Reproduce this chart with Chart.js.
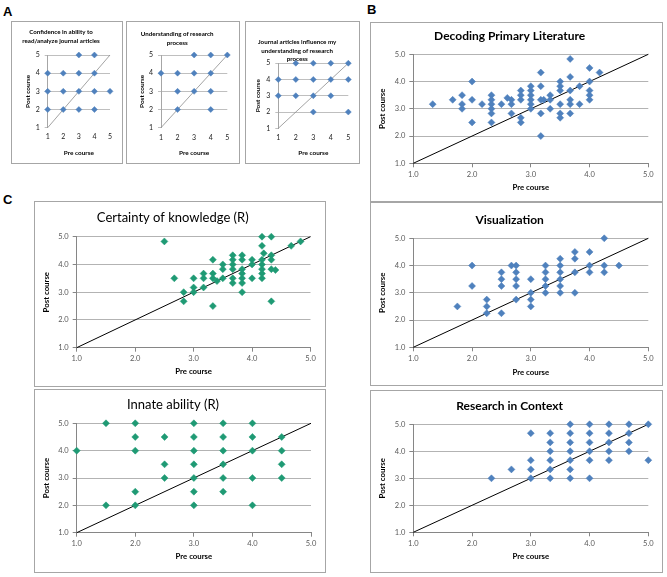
<!DOCTYPE html>
<html>
<head>
<meta charset="utf-8">
<script src="https://cdn.jsdelivr.net/npm/chart.js@4"></script>
<style>
  body { margin: 0; background: #fff; width: 667px; height: 577px; position: relative; overflow: hidden; }
  .box { position: absolute; border: 1px solid #a6a6a6; box-sizing: border-box; background: #fff; }
  .box canvas { position: absolute; left: 0; top: 0; }
  .lbl { position: absolute; font: bold 13px "Liberation Sans", Arial, sans-serif; color: #000; }
</style>
</head>
<body>
<div class="lbl" style="left:3px;top:4px">A</div>
<div class="lbl" style="left:367px;top:2px">B</div>
<div class="lbl" style="left:3px;top:192px">C</div>
<script>
const blue = '#4f81bd';
const green = '#1f9a74';
const intTicks = ['1', '2', '3', '4', '5'];
const decTicks = ['1.0', '2.0', '3.0', '4.0', '5.0'];
const diagonalX = [1, 5];
const diagonalY = [1, 5];

// Panel A
const confidencePre  = [3, 4, 1, 2, 3, 4, 1, 2, 3, 4, 5, 1, 2, 3, 4];
const confidencePost = [5, 5, 4, 4, 4, 4, 3, 3, 3, 3, 3, 2, 2, 2, 2];
const understandingPre  = [3, 4, 5, 1, 2, 3, 4, 2, 3, 4, 2, 4];
const understandingPost = [5, 5, 5, 4, 4, 4, 4, 3, 3, 3, 2, 2];
const influencePre  = [2, 3, 4, 5, 1, 2, 3, 4, 5, 1, 2, 3, 4, 3, 5];
const influencePost = [5, 5, 5, 5, 4, 4, 4, 4, 4, 3, 3, 3, 3, 2, 2];

// Panel B
const decodingPre = [1.33, 1.67, 1.83, 1.83, 1.83, 2.0, 2.0, 2.0, 2.17,
  2.33, 2.33, 2.33, 2.33, 2.33, 2.33, 2.5, 2.6, 2.67, 2.67, 2.67,
  2.83, 2.83, 2.83, 2.83, 2.83, 3.0, 3.0, 3.0, 3.0, 3.0, 3.0,
  3.17, 3.17, 3.17, 3.17, 3.17, 3.22, 3.33, 3.33, 3.33,
  3.5, 3.5, 3.5, 3.5, 3.5, 3.5, 3.67, 3.67, 3.67, 3.67, 3.67, 3.67,
  3.83, 3.83, 4.0, 4.0, 4.0, 4.0, 4.0, 4.17];
const decodingPost = [3.17, 3.33, 3.5, 3.17, 3.0, 4.0, 3.33, 2.5, 3.17,
  3.5, 3.33, 3.17, 3.0, 2.83, 2.5, 3.17, 3.4, 3.33, 3.17, 2.83,
  3.67, 3.5, 3.33, 2.67, 2.5, 3.83, 3.67, 3.5, 3.33, 3.17, 3.0,
  4.33, 3.83, 3.33, 2.83, 2.0, 3.33, 3.5, 3.33, 3.0,
  4.0, 3.83, 3.67, 3.17, 2.83, 2.67, 4.83, 4.17, 3.67, 3.33, 3.17, 2.83,
  3.83, 3.17, 4.5, 4.0, 3.67, 3.5, 3.33, 4.33];
const visualPre = [1.75, 2.0, 2.0, 2.25, 2.25, 2.25, 2.5, 2.5, 2.5, 2.5, 2.67,
  2.75, 2.75, 2.75, 2.75, 2.75, 3.0, 3.0, 3.0, 3.0, 3.25, 3.25, 3.25, 3.25, 3.25,
  3.5, 3.5, 3.5, 3.5, 3.5, 3.5, 3.75, 3.75, 3.75, 3.75, 4.0, 4.0, 4.0,
  4.25, 4.25, 4.25, 4.5];
const visualPost = [2.5, 4.0, 3.25, 2.75, 2.5, 2.25, 3.75, 3.5, 3.25, 2.25, 4.0,
  4.0, 3.75, 3.5, 3.25, 2.75, 3.5, 3.0, 2.75, 2.5, 4.0, 3.75, 3.5, 3.25, 3.0,
  4.25, 4.0, 3.75, 3.5, 3.25, 3.0, 4.5, 4.25, 3.75, 3.0, 4.5, 4.0, 3.75,
  5.0, 4.0, 3.75, 4.0];
const contextPre = [2.33, 2.67, 3.0, 3.0, 3.0, 3.0, 3.33, 3.33, 3.33, 3.33, 3.33, 3.33,
  3.67, 3.67, 3.67, 3.67, 3.67, 3.67, 3.67, 4.0, 4.0, 4.0, 4.0, 4.0, 4.0,
  4.33, 4.33, 4.33, 4.33, 4.33, 4.67, 4.67, 4.67, 4.67, 5.0, 5.0];
const contextPost = [3.0, 3.33, 4.67, 3.67, 3.33, 3.0, 4.67, 4.33, 4.0, 3.67, 3.33, 3.0,
  5.0, 4.67, 4.33, 4.0, 3.67, 3.33, 3.0, 5.0, 4.67, 4.33, 4.0, 3.67, 3.0,
  5.0, 4.67, 4.33, 4.0, 3.67, 5.0, 4.67, 4.33, 4.0, 5.0, 3.67];

// Panel C
const certaintyPre = [2.5, 2.67, 2.83, 2.83, 3.0, 3.0, 3.0, 3.17, 3.17, 3.17,
  3.33, 3.33, 3.33, 3.33, 3.4, 3.5, 3.5, 3.5, 3.67, 3.67, 3.67, 3.67, 3.67, 3.67,
  3.83, 3.83, 3.83, 3.83, 3.83, 3.83, 3.83, 4.0, 4.0, 4.0,
  4.17, 4.17, 4.17, 4.17, 4.17, 4.17, 4.17, 4.2, 4.33, 4.33, 4.33, 4.33, 4.33, 4.4, 4.67, 4.83];
const certaintyPost = [4.83, 3.5, 3.0, 2.67, 3.5, 3.17, 3.0, 3.67, 3.5, 3.17,
  4.17, 3.67, 3.5, 2.5, 3.4, 4.0, 3.83, 3.5, 4.33, 4.17, 4.0, 3.83, 3.5, 3.33,
  4.33, 4.17, 3.83, 3.67, 3.5, 3.33, 3.0, 4.17, 4.0, 3.5,
  5.0, 4.67, 4.17, 4.0, 3.83, 3.67, 3.5, 4.4, 5.0, 4.33, 4.17, 3.83, 2.67, 3.8, 4.67, 4.83];
const innatePre = [1.0, 1.5, 1.5, 2.0, 2.0, 2.0, 2.0, 2.0, 2.5, 2.5, 2.5,
  3.0, 3.0, 3.0, 3.0, 3.0, 3.0, 3.0, 3.5, 3.5, 3.5, 3.5, 3.5, 3.5,
  4.0, 4.0, 4.0, 4.0, 4.0, 4.5, 4.5, 4.5, 4.5];
const innatePost = [4.0, 5.0, 2.0, 5.0, 4.5, 4.0, 2.5, 2.0, 4.5, 3.5, 3.0,
  5.0, 4.5, 4.0, 3.5, 3.0, 2.5, 2.0, 5.0, 4.5, 4.0, 3.5, 3.0, 2.5,
  5.0, 4.5, 4.0, 3.0, 2.0, 4.5, 4.0, 3.5, 3.0];

Chart.defaults.font.family = 'Lato, "Liberation Sans", sans-serif';

function pts(xs, ys) {
  return xs.map((x, i) => ({ x: x, y: ys[i] }));
}

function addPanel(p) {
  const [bx, by, bw, bh] = p.box;
  const W = bw - 2, H = bh - 2, ox = bx + 1, oy = by + 1;
  const box = document.createElement('div');
  box.className = 'box';
  box.style.left = bx + 'px';
  box.style.top = by + 'px';
  box.style.width = bw + 'px';
  box.style.height = bh + 'px';
  const cv = document.createElement('canvas');
  cv.width = W;
  cv.height = H;
  box.appendChild(cv);
  document.body.appendChild(box);

  const f = p.fonts;
  const tLH = f.title * f.titleLH;
  const nLines = Array.isArray(p.title) ? p.title.length : 1;
  const titleTop = p.titleY - oy - tLH / 2;
  const titleBottom = Math.max(0, (p.plotT - oy) - titleTop - nLines * tLH);
  const tickLH = f.tick * 1.2, axLH = f.axis * 1.2;
  const xH = H - (p.plotB - oy);
  const xTickPad = (p.tickY - p.plotB) - p.xTickLen - tickLH / 2;
  const xTitlePad = (H - (p.xTitleY - oy)) - axLH / 2;
  const yW = p.plotL - ox;
  const yTitlePad = (p.yTitleX - ox) - axLH / 2;
  const padRight = W - (p.plotR - ox);
  const small = p.small;

  new Chart(cv, {
    type: 'scatter',
    data: {
      datasets: [
        {
          data: pts(p.pre, p.post),
          pointStyle: 'rectRot',
          pointRadius: p.radius,
          backgroundColor: p.color,
          borderColor: p.color,
          pointBorderWidth: 0.5,
          clip: false
        },
        {
          type: 'line',
          data: pts(diagonalX, diagonalY),
          borderColor: small ? '#8c8c8c' : '#000',
          borderWidth: small ? 0.8 : 1,
          pointRadius: 0,
          clip: false
        }
      ]
    },
    options: {
      responsive: false,
      animation: false,
      layout: { padding: { left: 0, right: padRight, top: 0, bottom: 0 } },
      plugins: {
        legend: { display: false },
        tooltip: { enabled: false },
        title: {
          display: true,
          text: p.title,
          color: '#000',
          font: { size: f.title, weight: p.titleWeight, lineHeight: f.titleLH },
          padding: { top: titleTop, bottom: titleBottom }
        }
      },
      scales: {
        x: {
          type: 'linear', min: 1, max: 5,
          afterFit: s => { s.height = xH; },
          ticks: {
            stepSize: 1, maxRotation: 0, minRotation: 0, autoSkip: false,
            padding: xTickPad, color: p.tickColor, font: { size: f.tick },
            callback: (v, i) => p.ticks[i]
          },
          grid: small ? { display: false, drawTicks: false } :
            { display: true, drawOnChartArea: false, drawTicks: true, tickLength: p.xTickLen, color: '#868686' },
          border: { display: !small, color: '#868686' },
          title: {
            display: true, text: 'Pre course', color: '#000',
            font: { size: f.axis, weight: 'bold' },
            padding: { top: 0, bottom: xTitlePad }
          }
        },
        y: {
          type: 'linear', min: 1, max: 5,
          afterFit: s => { s.width = yW; },
          ticks: {
            stepSize: 1, padding: small ? 5 : 4, color: p.tickColor, font: { size: f.tick },
            callback: (v, i) => p.ticks[i]
          },
          grid: {
            color: c => (small && c.tick && c.tick.value === 1) ? 'rgba(0,0,0,0)' : (small ? '#bfbfbf' : '#b3b3b3'),
            tickColor: small ? '#bfbfbf' : '#868686',
            tickLength: small ? 3 : 4
          },
          border: { color: small ? '#a6a6a6' : '#868686' },
          title: {
            display: true, text: 'Post course', color: '#000',
            font: { size: f.axis, weight: 'bold' },
            padding: { top: yTitlePad, bottom: 0 }
          }
        }
      }
    }
  });
}

const smallFonts = { title: 6.2, titleLH: 1.35, tick: 7, axis: 6.4 };
const bFonts = { title: 12, titleLH: 1.2, tick: 7.5, axis: 7.8 };
const cFonts = { title: 13, titleLH: 1.2, tick: 7.5, axis: 7.8 };

addPanel({ box: [11, 21, 112, 143], small: true, color: blue, radius: 3, ticks: intTicks, tickColor: '#222',
  title: ['Confidence in ability to', 'read/analyze journal articles'], titleWeight: 'bold', fonts: smallFonts,
  plotL: 47.7, plotR: 110, plotT: 55, plotB: 127.7, titleY: 32.3, tickY: 136.7, xTitleY: 152.7, yTitleX: 28.3, xTickLen: 0,
  pre: confidencePre, post: confidencePost });
addPanel({ box: [126, 21, 114, 143], small: true, color: blue, radius: 3, ticks: intTicks, tickColor: '#222',
  title: ['Understanding of research', 'process'], titleWeight: 'bold', fonts: smallFonts,
  plotL: 161, plotR: 227.3, plotT: 55, plotB: 127.7, titleY: 34.3, tickY: 137.3, xTitleY: 153, yTitleX: 141.7, xTickLen: 0,
  pre: understandingPre, post: understandingPost });
addPanel({ box: [245, 21, 115, 143], small: true, color: blue, radius: 3, ticks: intTicks, tickColor: '#222',
  title: ['Journal articles influence my', 'understanding of research', 'process'], titleWeight: 'bold', fonts: smallFonts,
  plotL: 278.3, plotR: 348.3, plotT: 62.3, plotB: 128.3, titleY: 42.3, tickY: 137.3, xTitleY: 152.7, yTitleX: 258.3, xTickLen: 0,
  pre: influencePre, post: influencePost });

addPanel({ box: [370, 22, 293, 180], color: blue, radius: 3.5, ticks: decTicks, tickColor: '#595959',
  title: 'Decoding Primary Literature', titleWeight: 'bold', fonts: bFonts,
  plotL: 413.3, plotR: 648.3, plotT: 54.3, plotB: 163.3, titleY: 35.7, tickY: 174.3, xTitleY: 187.7, yTitleX: 382.5, xTickLen: 4,
  pre: decodingPre, post: decodingPost });
addPanel({ box: [370, 202, 293, 184], color: blue, radius: 3.5, ticks: decTicks, tickColor: '#595959',
  title: 'Visualization', titleWeight: 'bold', fonts: bFonts,
  plotL: 413.3, plotR: 648.3, plotT: 238.3, plotB: 347.3, titleY: 220, tickY: 358.3, xTitleY: 372.3, yTitleX: 382.5, xTickLen: 4,
  pre: visualPre, post: visualPost });
addPanel({ box: [370, 390, 293, 183], color: blue, radius: 3.5, ticks: decTicks, tickColor: '#595959',
  title: 'Research in Context', titleWeight: 'bold', fonts: bFonts,
  plotL: 413.3, plotR: 648.3, plotT: 424.3, plotB: 532.3, titleY: 406, tickY: 543.3, xTitleY: 556.7, yTitleX: 382.5, xTickLen: 4,
  pre: contextPre, post: contextPost });

addPanel({ box: [34, 201, 292, 186], color: green, radius: 3.5, ticks: decTicks, tickColor: '#595959',
  title: 'Certainty of knowledge (R)', titleWeight: 'normal', fonts: cFonts,
  plotL: 76.7, plotR: 310.5, plotT: 236.7, plotB: 347.7, titleY: 218.3, tickY: 359, xTitleY: 371.7, yTitleX: 46.5, xTickLen: 4,
  pre: certaintyPre, post: certaintyPost });
addPanel({ box: [34, 389, 292, 184], color: green, radius: 3.5, ticks: decTicks, tickColor: '#595959',
  title: 'Innate ability (R)', titleWeight: 'normal', fonts: cFonts,
  plotL: 76.7, plotR: 311, plotT: 423.3, plotB: 532.7, titleY: 405, tickY: 543.3, xTitleY: 556.7, yTitleX: 46.5, xTickLen: 4,
  pre: innatePre, post: innatePost });
</script>
</body>
</html>
